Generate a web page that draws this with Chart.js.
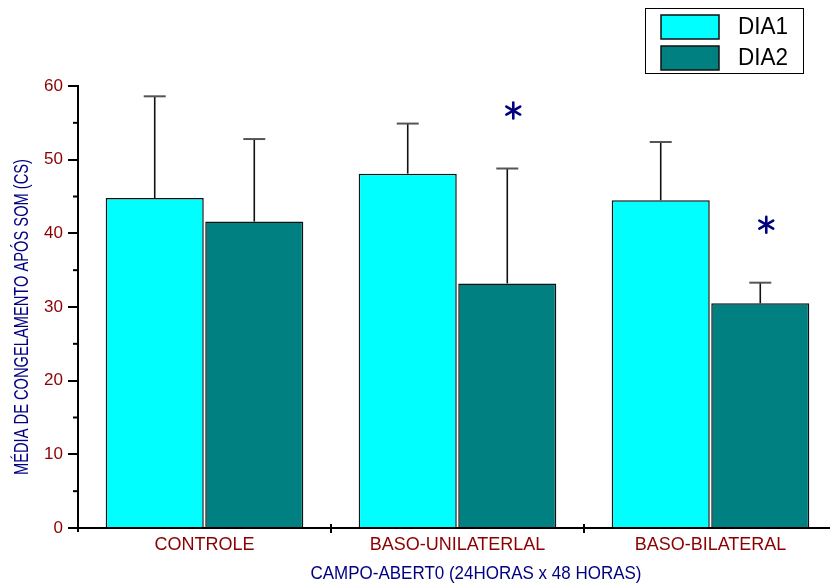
<!DOCTYPE html>
<html>
<head>
<meta charset="utf-8">
<script src="https://cdn.jsdelivr.net/npm/chart.js@4.4.1/dist/chart.umd.min.js"></script>
<style>
  html, body { margin: 0; padding: 0; background: #fff; overflow: hidden; }
  #wrap { width: 830px; height: 587px; overflow: hidden; position: relative; }
  canvas { display: block; }
</style>
</head>
<body>
<div id="wrap"><canvas id="c" width="840" height="587"></canvas></div>
<script>
// Freezing means per group, two test days, with upper SD bars
const categories = ['CONTROLE', 'BASO-UNILATERLAL', 'BASO-BILATERAL'];
const seriesNames = ['DIA1', 'DIA2'];
const dia1 = [44.8, 48.1, 44.5];
const dia1Sd = [13.8, 6.8, 7.9];
const dia2 = [41.6, 33.2, 30.5];
const dia2Sd = [11.2, 15.6, 2.8];
const dia2Significant = [false, true, true];
const yTickStep = 10;
const yMax = 60;
const xTitle = 'CAMPO-ABERT0 (24HORAS x 48 HORAS)';
const yTitle = 'MÉDIA DE CONGELAMENTO APÓS SOM (CS)';

const FONT = '"Liberation Sans", Arial, sans-serif';
const TICK_RED = '#8B0000';
const NAVY = '#000080';
const COLORS = ['#00FFFF', '#008080'];

// Draw text condensed horizontally so that it spans the given width
function condensedText(ctx, text, x, y, width) {
  const natural = ctx.measureText(text).width;
  ctx.save();
  ctx.translate(x, y);
  ctx.scale(width / natural, 1);
  ctx.fillText(text, 0, 0);
  ctx.restore();
}

function drawStar(ctx, cx, cy, r) {
  ctx.save();
  ctx.strokeStyle = NAVY;
  ctx.lineWidth = 2.6;
  ctx.lineCap = 'round';
  for (let k = 0; k < 3; k++) {
    const a = Math.PI / 2 + k * Math.PI / 3;
    ctx.beginPath();
    ctx.moveTo(cx - r * Math.cos(a), cy - r * Math.sin(a));
    ctx.lineTo(cx + r * Math.cos(a), cy + r * Math.sin(a));
    ctx.stroke();
  }
  ctx.restore();
}

const decorations = {
  id: 'decorations',
  afterDatasetsDraw(chart) {
    const ctx = chart.ctx;
    const y = chart.scales.y, x = chart.scales.x;
    const sds = [dia1Sd, dia2Sd];

    // upper error bars
    ctx.save();
    chart.data.datasets.forEach((ds, i) => {
      const meta = chart.getDatasetMeta(i);
      meta.data.forEach((bar, j) => {
        const top = y.getPixelForValue(ds.data[j] + sds[i][j]);
        ctx.strokeStyle = '#111';
        ctx.lineWidth = 1.6;
        ctx.beginPath();
        ctx.moveTo(bar.x, bar.y);
        ctx.lineTo(bar.x, top);
        ctx.stroke();
        ctx.strokeStyle = '#555';
        ctx.lineWidth = 2;
        ctx.beginPath();
        ctx.moveTo(bar.x - 11, top);
        ctx.lineTo(bar.x + 11, top);
        ctx.stroke();
        if (i === 1 && dia2Significant[j]) {
          drawStar(ctx, bar.x + 6, top - 58, 8);
        }
      });
    });

    // minor y ticks and the small stub of the y axis below zero
    ctx.strokeStyle = '#000';
    ctx.lineWidth = 2;
    for (let v = yTickStep / 2; v < yMax; v += yTickStep) {
      const py = y.getPixelForValue(v);
      ctx.beginPath();
      ctx.moveTo(chart.chartArea.left - 5, py);
      ctx.lineTo(chart.chartArea.left, py);
      ctx.stroke();
    }
    ctx.beginPath();
    ctx.moveTo(chart.chartArea.left, chart.chartArea.bottom);
    ctx.lineTo(chart.chartArea.left, chart.chartArea.bottom + 4);
    ctx.stroke();

    // x ticks between groups, crossing the axis
    for (let j = 0; j < categories.length - 1; j++) {
      const px = (x.getPixelForValue(j) + x.getPixelForValue(j + 1)) / 2;
      ctx.beginPath();
      ctx.moveTo(px, chart.chartArea.bottom - 4);
      ctx.lineTo(px, chart.chartArea.bottom + 5);
      ctx.stroke();
    }

    // axis titles
    ctx.fillStyle = NAVY;
    ctx.textAlign = 'center';
    ctx.textBaseline = 'middle';
    ctx.font = '19px ' + FONT;
    condensedText(ctx, xTitle, 476, 574, 331);
    ctx.save();
    ctx.translate(22, 317);
    ctx.rotate(-Math.PI / 2);
    ctx.font = '21px ' + FONT;
    condensedText(ctx, yTitle, 0, 0, 316);
    ctx.restore();

    // legend box
    ctx.fillStyle = '#fff';
    ctx.fillRect(645, 8, 158, 65);
    ctx.strokeStyle = '#000';
    ctx.lineWidth = 1;
    ctx.strokeRect(645.5, 8.5, 158, 65);
    seriesNames.forEach((name, i) => {
      const sy = 15 + i * 31;
      ctx.fillStyle = COLORS[i];
      ctx.fillRect(661, sy, 58, 24);
      ctx.strokeStyle = '#111';
      ctx.lineWidth = 1.5;
      ctx.strokeRect(661, sy, 58, 24);
      ctx.fillStyle = '#000';
      ctx.font = '23px ' + FONT;
      ctx.textAlign = 'left';
      ctx.textBaseline = 'middle';
      condensedText(ctx, name, 738, sy + 13, 50);
    });
    ctx.restore();
  }
};

new Chart(document.getElementById('c'), {
  type: 'bar',
  data: {
    labels: categories,
    datasets: [
      { label: seriesNames[0], data: dia1, backgroundColor: COLORS[0], borderColor: '#111', borderWidth: 1.5,
        categoryPercentage: 0.787, barPercentage: 0.985 },
      { label: seriesNames[1], data: dia2, backgroundColor: COLORS[1], borderColor: '#111', borderWidth: 1.5,
        categoryPercentage: 0.787, barPercentage: 0.985 }
    ]
  },
  options: {
    responsive: false,
    animation: false,
    devicePixelRatio: 1,
    layout: { padding: { top: 86, right: 3, left: 0, bottom: 0 } },
    plugins: { legend: { display: false }, tooltip: { enabled: false } },
    scales: {
      x: {
        offset: true,
        grid: { display: false, drawTicks: false },
        border: { display: true, color: '#000', width: 2 },
        ticks: { color: TICK_RED, font: { family: FONT, size: 18 }, padding: 6, maxRotation: 0 },
        afterFit: s => { s.height = 59; }
      },
      y: {
        min: 0, max: yMax,
        ticks: { stepSize: yTickStep, color: TICK_RED, font: { family: FONT, size: 17 }, padding: 5 },
        grid: { drawOnChartArea: false, drawTicks: true, tickLength: 10, color: '#000', lineWidth: 2 },
        border: { display: true, color: '#000', width: 2 },
        afterFit: s => { s.width = 78; }
      }
    }
  },
  plugins: [decorations]
});
</script>
</body>
</html>
